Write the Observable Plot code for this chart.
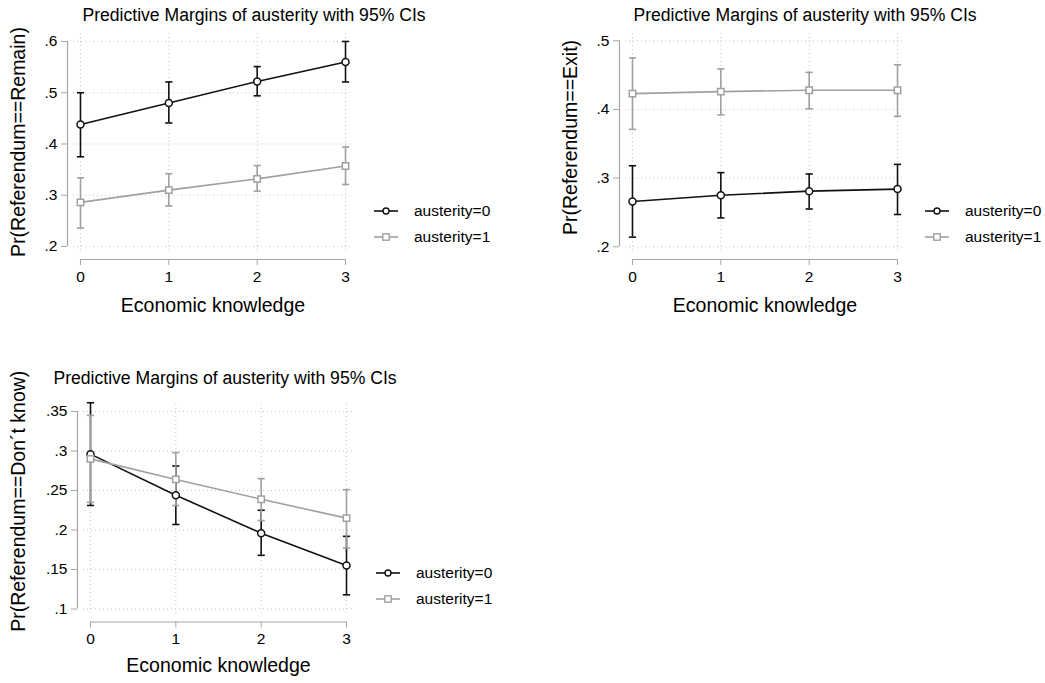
<!DOCTYPE html>
<html>
<head>
<meta charset="utf-8">
<script src="https://cdn.jsdelivr.net/npm/d3@7"></script>
<script src="https://cdn.jsdelivr.net/npm/@observablehq/plot@0.6"></script>
<style>
  body { margin: 0; background: #fff; font-family: "Liberation Sans", Arial, Helvetica, sans-serif; }
  #fig { position: relative; width: 1045px; height: 683px; overflow: hidden; background: #fff; }
  .panel { position: absolute; }
  .panel [aria-label$="tick label"] { font-size: 15.5px; }
  .title { position: absolute; font-size: 17.6px; white-space: nowrap; transform: translate(-50%, -50%); color: #000; }
  .legend-row { position: absolute; white-space: nowrap; display: flex; align-items: center; transform: translateY(-50%); font-size: 15.5px; color: #000; }
  .legend-row svg { display: block; margin-right: 16px; }
</style>
</head>
<body>
<div id="fig"></div>
<script>
// Economic knowledge levels (x axis)
const knowledge = [0, 1, 2, 3];

// Pr(Referendum==Remain)
const remain0   = [0.438, 0.480, 0.522, 0.560];
const remain0Lo = [0.375, 0.441, 0.494, 0.521];
const remain0Hi = [0.500, 0.521, 0.551, 0.600];
const remain1   = [0.286, 0.310, 0.332, 0.357];
const remain1Lo = [0.236, 0.279, 0.308, 0.321];
const remain1Hi = [0.334, 0.342, 0.358, 0.394];

// Pr(Referendum==Exit)
const exit0   = [0.266, 0.275, 0.281, 0.284];
const exit0Lo = [0.214, 0.242, 0.255, 0.247];
const exit0Hi = [0.318, 0.308, 0.306, 0.320];
const exit1   = [0.423, 0.426, 0.428, 0.428];
const exit1Lo = [0.371, 0.392, 0.401, 0.390];
const exit1Hi = [0.475, 0.459, 0.454, 0.465];

// Pr(Referendum==Don´t know)
const dk0   = [0.296, 0.244, 0.196, 0.155];
const dk0Lo = [0.231, 0.207, 0.168, 0.118];
const dk0Hi = [0.361, 0.281, 0.225, 0.192];
const dk1   = [0.290, 0.264, 0.239, 0.215];
const dk1Lo = [0.235, 0.231, 0.212, 0.177];
const dk1Hi = [0.345, 0.298, 0.265, 0.251];

// Tick values and labels
const remainTicks = [0.2, 0.3, 0.4, 0.5, 0.6];
const exitTicks   = [0.2, 0.3, 0.4, 0.5];
const dkTicks     = [0.1, 0.15, 0.2, 0.25, 0.3, 0.35];
const groupLabels = ["austerity=0", "austerity=1"];
const titleText = "Predictive Margins of austerity with 95% CIs";
const xTitle = "Economic knowledge";

const BLACK = "#111111";
const GRAY = "#a0a0a0";
const AXIS = "#a6a6a6";
const GRID = "#c4c4c4";
const FONT = "'Liberation Sans', Arial, Helvetica, sans-serif";

const fmt = d => String(+d.toFixed(2)).replace(/^0\./, ".");

// Horizontal cap drawn at the ends of each confidence interval
const capSymbol = {
  draw(context, size) {
    const w = Math.sqrt(size / Math.PI);
    context.moveTo(-w, 0);
    context.lineTo(w, 0);
  }
};

function rows(mean, lo, hi) {
  return knowledge.map((k, i) => ({k, mean: mean[i], lo: lo[i], hi: hi[i]}));
}

function ciMarks(data, color) {
  return [
    Plot.ruleX(data, {x: "k", y1: "lo", y2: "hi", stroke: color, strokeWidth: 1.6}),
    Plot.dot(data, {x: "k", y: "lo", symbol: capSymbol, r: 3.6, stroke: color, fill: "none", strokeWidth: 1.6}),
    Plot.dot(data, {x: "k", y: "hi", symbol: capSymbol, r: 3.6, stroke: color, fill: "none", strokeWidth: 1.6})
  ];
}

function seriesMarks(data, color, symbol, r) {
  return [
    Plot.line(data, {x: "k", y: "mean", stroke: color, strokeWidth: 1.6}),
    Plot.dot(data, {x: "k", y: "mean", symbol, r, stroke: color, fill: "white", strokeWidth: 1.5})
  ];
}

function panel(cfg) {
  const d0 = rows(...cfg.s0);
  const d1 = rows(...cfg.s1);
  const ticks = cfg.ticks;
  const chart = Plot.plot({
    width: cfg.width,
    height: cfg.height,
    marginLeft: cfg.ml,
    marginRight: cfg.mr,
    marginTop: cfg.mt,
    marginBottom: cfg.mb,
    style: {fontFamily: FONT, fontSize: "15.5px", background: "transparent", overflow: "visible", color: "#000"},
    x: {domain: cfg.xDomain, axis: null},
    y: {domain: cfg.yDomain, axis: null},
    marks: [
      Plot.gridY(ticks, {stroke: GRID, strokeOpacity: 1, strokeDasharray: "1,3"}),
      Plot.gridX(knowledge, {stroke: GRID, strokeOpacity: 1, strokeDasharray: "1,3"}),
      // detached y axis
      Plot.ruleX([cfg.xDomain[0]], {y1: ticks[0], y2: ticks[ticks.length - 1], dx: -6, stroke: AXIS, strokeWidth: 1.2}),
      Plot.axisY(ticks, {anchor: "left", tickSize: 6, dx: -6, tickPadding: 4, stroke: AXIS, fill: "#000", fontSize: 15.5, tickFormat: fmt, label: null}),
      // detached x axis
      Plot.ruleY([cfg.yDomain[0]], {x1: knowledge[0], x2: knowledge[knowledge.length - 1], dy: 6, stroke: AXIS, strokeWidth: 1.2}),
      Plot.axisX(knowledge, {anchor: "bottom", tickSize: 6, dy: 6, tickPadding: 5, stroke: AXIS, fill: "#000", fontSize: 15.5, label: null}),
      // axis titles
      Plot.text([cfg.yTitle], {frameAnchor: "left", rotate: -90, textAnchor: "middle", lineAnchor: "middle", dx: -cfg.yTitleOffset, dy: cfg.yTitleDy, fontSize: 19.5, fill: "#000"}),
      Plot.text([xTitle], {frameAnchor: "bottom", textAnchor: "middle", lineAnchor: "middle", dy: cfg.xTitleDy, fontSize: 19.5, fill: "#000"}),
      // confidence intervals, then connected margins
      ...ciMarks(d0, BLACK),
      ...ciMarks(d1, GRAY),
      ...seriesMarks(d0, BLACK, "circle", 3.5),
      ...seriesMarks(d1, GRAY, "square", 3.6)
    ]
  });
  chart.classList.add("panel");
  chart.style.left = cfg.left + "px";
  chart.style.top = cfg.top + "px";
  fig.appendChild(chart);

  const t = document.createElement("div");
  t.className = "title";
  t.textContent = titleText;
  t.style.left = cfg.titleX + "px";
  t.style.top = cfg.titleY + "px";
  fig.appendChild(t);

  const styles = [
    {color: BLACK, symbol: "circle"},
    {color: GRAY, symbol: "square"}
  ];
  groupLabels.forEach((label, i) => {
    const row = document.createElement("div");
    row.className = "legend-row";
    row.style.left = cfg.legendX + "px";
    row.style.top = cfg.legendY[i] + "px";
    const s = styles[i];
    const marker = s.symbol === "circle"
      ? `<circle cx="12" cy="6" r="3" fill="white" stroke="${s.color}" stroke-width="1.4"/>`
      : `<rect x="8.8" y="2.8" width="6.4" height="6.4" fill="white" stroke="${s.color}" stroke-width="1.4"/>`;
    row.innerHTML = `<svg width="24" height="12"><line x1="0" x2="24" y1="6" y2="6" stroke="${s.color}" stroke-width="1.6"/>${marker}</svg><span>${label}</span>`;
    fig.appendChild(row);
  });
}

const fig = document.getElementById("fig");

panel({
  left: 0, top: 0, width: 360, height: 320, ml: 73, mr: 8, mt: 33, mb: 67,
  xDomain: [-0.079, 3.079], yDomain: [0.1863, 0.6156], ticks: remainTicks,
  s0: [remain0, remain0Lo, remain0Hi], s1: [remain1, remain1Lo, remain1Hi],
  yTitle: "Pr(Referendum==Remain)", yTitleOffset: 55, yTitleDy: -1.5, xTitleDy: 52,
  titleX: 254, titleY: 15, legendX: 374, legendY: [211, 237]
});

panel({
  left: 552, top: 0, width: 360, height: 320, ml: 73, mr: 8, mt: 33, mb: 67,
  xDomain: [-0.079, 3.079], yDomain: [0.1902, 0.5106], ticks: exitTicks,
  s0: [exit0, exit0Lo, exit0Hi], s1: [exit1, exit1Lo, exit1Hi],
  yTitle: "Pr(Referendum==Exit)", yTitleOffset: 55, yTitleDy: -6, xTitleDy: 52,
  titleX: 805, titleY: 15, legendX: 925, legendY: [211, 237]
});

panel({
  left: 0, top: 360, width: 360, height: 323, ml: 83, mr: 7, mt: 44, mb: 67.5,
  xDomain: [-0.082, 3.082], yDomain: [0.0912, 0.3588], ticks: dkTicks,
  s0: [dk0, dk0Lo, dk0Hi], s1: [dk1, dk1Lo, dk1Hi],
  yTitle: "Pr(Referendum==Don´t know)", yTitleOffset: 65, yTitleDy: -9, xTitleDy: 50,
  titleX: 225, titleY: 378, legendX: 376, legendY: [573, 599]
});
</script>
</body>
</html>
